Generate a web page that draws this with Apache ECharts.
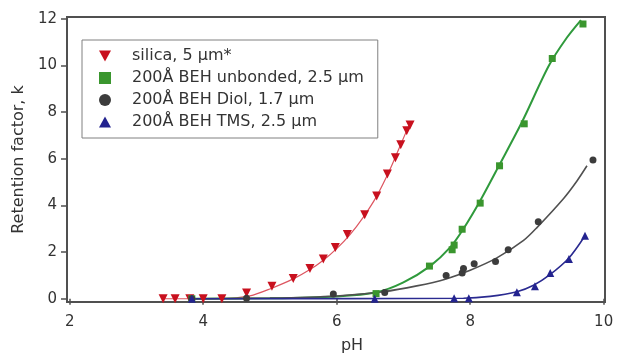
<!DOCTYPE html>
<html>
<head>
<meta charset="utf-8">
<script src="https://cdn.jsdelivr.net/npm/echarts@6/dist/echarts.min.js"></script>
<style>html,body{margin:0;padding:0;background:#fff;}#c{width:617px;height:359px;}</style>
</head>
<body>
<div id="c"></div>
<script>
const seriesNames = ['silica, 5 μm*', '200Å BEH unbonded, 2.5 μm', '200Å BEH Diol, 1.7 μm', '200Å BEH TMS, 2.5 μm'];
const xTicks = [2, 4, 6, 8, 10];
const yTicks = [0, 2, 4, 6, 8, 10, 12];

const silicaPts = [[3.4,0],[3.58,0],[3.8,0],[4.0,0],[4.28,0],[4.65,0.25],[5.03,0.54],[5.35,0.87],[5.6,1.3],[5.8,1.7],[5.98,2.2],[6.16,2.75],[6.42,3.6],[6.6,4.4],[6.76,5.35],[6.88,6.05],[6.96,6.6],[7.05,7.2],[7.1,7.45]];
const unbondedPts = [[3.83,0],[6.59,0.22],[7.39,1.4],[7.73,2.1],[7.76,2.3],[7.88,2.98],[8.15,4.1],[8.44,5.7],[8.81,7.5],[9.23,10.3],[9.69,11.78]];
const diolPts = [[3.83,0],[4.65,0.02],[5.95,0.2],[6.72,0.27],[7.64,1.0],[7.88,1.1],[7.9,1.3],[8.06,1.5],[8.38,1.6],[8.57,2.1],[9.02,3.3],[9.84,5.95]];
const tmsPts = [[3.83,0],[6.57,0],[7.76,0.02],[7.98,0.02],[8.7,0.28],[8.97,0.53],[9.2,1.1],[9.48,1.7],[9.72,2.7]];

const silicaFit = [[3.4,0],[4.0,0],[4.4,0.02],[4.7,0.12],[5.0,0.42],[5.35,0.85],[5.6,1.25],[5.8,1.65],[6.0,2.15],[6.2,2.75],[6.4,3.5],[6.6,4.4],[6.8,5.55],[6.95,6.55],[7.1,7.55]];
const unbondedFit = [[3.83,0],[5.0,0.02],[6.0,0.1],[6.6,0.28],[7.0,0.7],[7.4,1.4],[7.7,2.2],[7.9,3.0],[8.15,4.2],[8.44,5.75],[8.78,7.6],[9.18,10.0],[9.45,11.2],[9.66,11.95]];
const diolFit = [[3.83,0],[5.0,0.03],[6.0,0.12],[6.7,0.3],[7.2,0.55],[7.64,0.85],[8.0,1.22],[8.4,1.75],[8.8,2.5],[9.0,3.05],[9.4,4.3],[9.6,5.05],[9.75,5.7]];
const tmsFit = [[3.83,0],[7.9,0.02],[8.3,0.1],[8.7,0.3],[8.95,0.58],[9.18,1.0],[9.48,1.75],[9.72,2.7]];

const markerColors = ['#c8101e', '#3a962e', '#3c3c3c', '#23238f'];
const lineColors = ['#dd5560', '#2f9a3c', '#505050', '#2a2a90'];
const symbols = ['triangle', 'rect', 'circle', 'triangle'];
const legendIcons = ['path://M0,0L10,0L5,9Z', 'rect', 'circle', 'path://M5,0L10,9L0,9Z'];
const ptsList = [silicaPts, unbondedPts, diolPts, tmsPts];
const fitList = [silicaFit, unbondedFit, diolFit, tmsFit];
const lineWidths = [1.2, 2, 1.6, 1.6];
const symSizes = [9, 7, 7, 8];

const font = 'DejaVu Sans, Verdana, sans-serif';
const series = [];
for (let i = 0; i < 4; i++) {
  series.push({
    type: 'line', data: fitList[i], showSymbol: false, symbol: 'none', smooth: 0.3,
    lineStyle: { color: lineColors[i], width: lineWidths[i] }, silent: true, z: 2
  });
}
for (let i = 0; i < 4; i++) {
  series.push({
    name: seriesNames[i], type: 'scatter', data: ptsList[i], symbol: symbols[i],
    symbolRotate: i === 0 ? 180 : 0, symbolSize: symSizes[i],
    itemStyle: { color: markerColors[i], opacity: 1 }, z: 3
  });
}

const chart = echarts.init(document.getElementById('c'), null, { renderer: 'canvas' });
chart.setOption({
  animation: false,
  backgroundColor: '#fff',
  grid: { left: 67, right: 12, top: 17, bottom: 53, show: true, borderColor: '#505050', borderWidth: 2, backgroundColor: 'transparent' },
  legend: {
    orient: 'vertical', left: 82, top: 40,
    padding: [8, 14, 8, 17],
    borderColor: '#808080', borderWidth: 1, backgroundColor: '#fff',
    itemWidth: 12, itemHeight: 12, itemGap: 6,
    textStyle: { fontFamily: font, fontSize: 16, color: '#333', padding: [0, 0, 0, 16], lineHeight: 16 },
    data: seriesNames.map((n, i) => ({ name: n, icon: legendIcons[i], itemStyle: { color: markerColors[i], opacity: 1 } }))
  },
  xAxis: {
    type: 'value', min: 1.96, max: 10.02,
    name: 'pH', nameLocation: 'middle', nameGap: 36,
    nameTextStyle: { fontFamily: font, fontSize: 16, color: '#333', padding: [0, 0, 0, 32] },
    axisLine: { show: false },
    axisTick: { show: true, customValues: xTicks, length: 6, lineStyle: { color: '#505050', width: 1.5 } },
    axisLabel: { customValues: xTicks, fontFamily: font, fontSize: 15, color: '#333', margin: 13 },
    splitLine: { show: false }
  },
  yAxis: {
    type: 'value', min: -0.14, max: 12.08,
    name: 'Retention factor, k', nameLocation: 'middle', nameGap: 40,
    nameTextStyle: { fontFamily: font, fontSize: 16, color: '#333' },
    axisLine: { show: false },
    axisTick: { show: true, customValues: yTicks, length: 6, lineStyle: { color: '#505050', width: 1.5 } },
    axisLabel: { customValues: yTicks, fontFamily: font, fontSize: 15, color: '#333', margin: 10 },
    splitLine: { show: false }
  },
  series: series
});
</script>
</body>
</html>
